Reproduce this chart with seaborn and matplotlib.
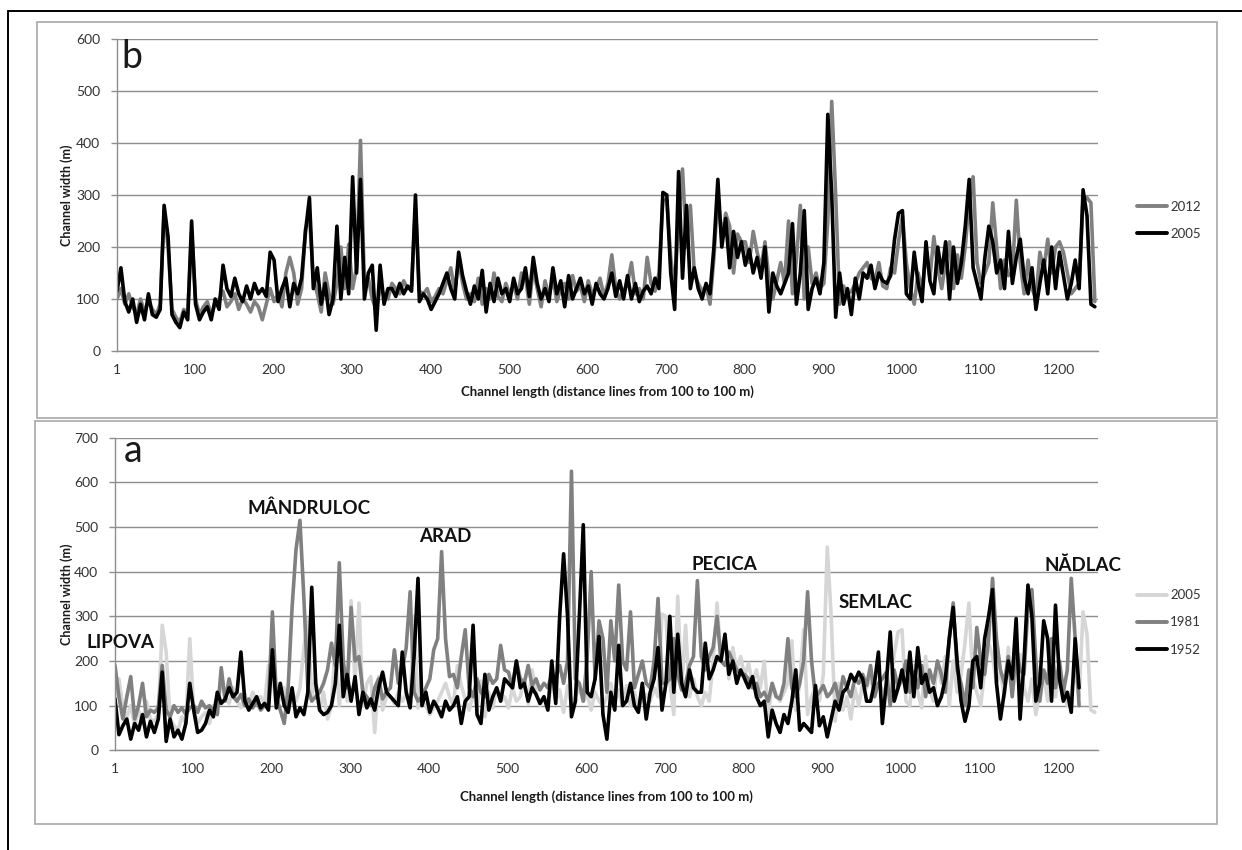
import numpy as np
import pandas as pd
import matplotlib
matplotlib.use("Agg")
import matplotlib.pyplot as plt
import seaborn as sns
from matplotlib.lines import Line2D
from matplotlib.patches import Rectangle

# ---------------- data (one value every 5 distance lines) ----------------
# positions 1, 6, 11, ... 1246
w2005 = [
    115, 160, 95, 75, 100, 55, 90, 60, 110, 70,
    65, 80, 280, 220, 70, 55, 45, 75, 60, 250,
    90, 60, 75, 85, 60, 100, 80, 165, 120, 105,
    140, 110, 95, 125, 100, 130, 110, 120, 105, 190,
    175, 95, 120, 140, 85, 130, 110, 140, 230, 295,
    120, 160, 90, 130, 70, 100, 240, 100, 180, 110,
    335, 150, 330, 100, 150, 165, 40, 165, 90, 120,
    120, 105, 130, 110, 125, 115, 300, 95, 110, 100,
    80, 95, 110, 130, 150, 120, 100, 190, 145, 115,
    90, 125, 100, 155, 75, 130, 95, 140, 110, 120,
    95, 140, 110, 120, 160, 105, 180, 130, 100, 120,
    95, 160, 110, 135, 85, 145, 100, 120, 140, 110,
    125, 90, 130, 110, 100, 120, 150, 105, 135, 100,
    145, 100, 130, 95, 115, 125, 110, 140, 120, 305,
    300, 150, 80, 345, 140, 280, 120, 160, 120, 100,
    130, 110, 200, 330, 200, 255, 160, 230, 180, 210,
    165, 195, 150, 180, 140, 200, 75, 150, 125, 110,
    130, 150, 245, 90, 150, 270, 80, 120, 140, 110,
    170, 455, 300, 65, 150, 90, 120, 70, 140, 100,
    150, 140, 165, 120, 150, 135, 130, 145, 215, 265,
    270, 110, 100, 190, 130, 95, 210, 135, 110, 200,
    150, 210, 100, 200, 130, 170, 240, 330, 160, 130,
    100, 180, 240, 210, 150, 175, 120, 230, 130, 180,
    215, 140, 110, 160, 80, 130, 175, 110, 200, 120,
    190, 145, 100, 130, 175, 120, 310, 260, 90, 85,
]

w2012 = [
    100, 120, 90, 110, 85, 70, 100, 75, 95, 80,
    70, 90, 270, 200, 80, 65, 55, 80, 70, 230,
    100, 70, 85, 95, 70, 90, 100, 115, 85, 95,
    110, 80, 100, 90, 75, 95, 85, 60, 90, 120,
    95, 110, 85, 150, 180, 150, 90, 120, 235, 260,
    140, 110, 75, 150, 110, 90, 130, 200, 120, 205,
    120, 160, 405, 130, 140, 100, 80, 120, 110, 100,
    130, 120, 110, 135, 120, 125, 280, 115, 110, 120,
    95, 105, 120, 110, 135, 160, 115, 175, 130, 100,
    110, 95, 140, 90, 120, 100, 150, 105, 95, 130,
    110, 125, 100, 150, 140, 90, 160, 120, 85, 135,
    105, 140, 95, 120, 130, 100, 145, 115, 125, 95,
    135, 110, 120, 140, 105, 130, 185, 120, 100, 115,
    130, 170, 110, 120, 100, 180, 130, 115, 150, 290,
    290, 180, 120, 250, 350, 200, 280, 150, 130, 115,
    125, 90, 180, 300, 215, 265, 240, 150, 225, 210,
    210, 170, 230, 190, 160, 210, 140, 100, 135, 170,
    130, 250, 110, 175, 280, 100, 200, 130, 150, 120,
    130, 250, 480, 300, 90, 125, 110, 115, 130, 150,
    160, 170, 140, 135, 170, 125, 120, 160, 150, 210,
    260, 170, 120, 90, 150, 115, 190, 140, 220, 160,
    120, 170, 210, 120, 185, 140, 200, 290, 335, 170,
    130, 150, 170, 285, 200, 120, 175, 145, 150, 290,
    170, 110, 175, 120, 100, 190, 155, 215, 150, 200,
    210, 190, 150, 110, 120, 130, 290, 295, 285, 95,
]

# positions 1, 6, 11, ... 1226
w1981 = [
    190, 120, 70, 120, 165, 70, 100, 150, 75, 90,
    85, 95, 190, 90, 75, 100, 85, 95, 80, 95,
    100, 85, 110, 95, 100, 90, 80, 185, 110, 160,
    120, 110, 125, 100, 115, 95, 110, 90, 100, 105,
    310, 120, 90, 60, 140, 320, 450, 515, 340, 140,
    110, 120, 130, 150, 180, 240, 190, 420, 200, 140,
    320, 200, 210, 130, 120, 100, 140, 160, 115, 130,
    140, 225, 150, 180, 230, 355, 130, 110, 120, 140,
    160, 225, 250, 445, 250, 165, 170, 140, 210, 270,
    140, 120, 160, 130, 120, 170, 150, 160, 235, 180,
    175, 140, 200, 160, 150, 190, 145, 160, 135, 150,
    140, 170, 165, 190, 150, 200, 625, 160, 150, 110,
    210, 400, 160, 290, 250, 130, 290, 200, 370, 200,
    180, 310, 140, 170, 200, 150, 140, 200, 340, 150,
    150, 160, 250, 170, 135, 150, 190, 210, 380, 210,
    180, 210, 230, 300, 200, 190, 220, 200, 180, 170,
    170, 160, 140, 150, 120, 130, 110, 150, 120, 115,
    150, 250, 140, 120, 150, 200, 355, 200, 120, 130,
    145, 120, 130, 150, 110, 165, 140, 120, 160, 150,
    170, 145, 190, 120, 150, 160, 175, 100, 180, 140,
    160, 200, 130, 175, 140, 190, 120, 180, 150, 200,
    170, 130, 250, 330, 180, 150, 100, 180, 140, 275,
    200, 170, 250, 385, 250, 180, 150, 210, 120, 230,
    180, 170, 320, 360, 200, 110, 180, 150, 250, 140,
    200, 130, 180, 385, 250, 100,
]

w1952 = [
    115, 35, 55, 70, 25, 60, 45, 80, 30, 65,
    40, 70, 175, 20, 70, 30, 45, 25, 60, 150,
    90, 40, 45, 60, 90, 75, 130, 105, 115, 140,
    120, 130, 220, 110, 90, 105, 120, 95, 105, 90,
    225, 95, 150, 100, 85, 140, 75, 95, 80, 130,
    365, 150, 90, 80, 85, 100, 150, 280, 120, 170,
    110, 165, 80, 130, 95, 115, 90, 140, 175, 130,
    120, 110, 100, 220, 130, 95, 210, 385, 100, 130,
    85, 110, 95, 75, 110, 90, 100, 120, 60, 110,
    120, 280, 80, 60, 170, 90, 120, 140, 110, 160,
    150, 140, 200, 140, 150, 110, 140, 125, 105, 120,
    90, 200, 105, 300, 440, 300, 75, 110, 300, 505,
    130, 120, 160, 255, 80, 25, 130, 90, 235, 100,
    110, 150, 100, 85, 150, 70, 130, 160, 230, 90,
    150, 300, 130, 260, 150, 120, 180, 140, 130, 130,
    240, 160, 180, 210, 200, 260, 170, 200, 150, 180,
    160, 140, 165, 120, 100, 110, 30, 90, 60, 40,
    80, 60, 110, 180, 45, 60, 50, 40, 145, 55,
    75, 30, 70, 110, 90, 130, 140, 170, 155, 175,
    160, 110, 110, 150, 220, 60, 150, 265, 110, 140,
    180, 130, 220, 120, 230, 150, 170, 130, 140, 100,
    120, 160, 250, 320, 200, 110, 65, 100, 200, 210,
    140, 250, 300, 360, 150, 70, 130, 200, 160, 295,
    70, 200, 370, 300, 110, 150, 290, 250, 110, 325,
    160, 110, 130, 85, 250, 140,
]

pos_long = np.arange(1, 1251, 5)
pos_short = np.arange(1, 1227, 5)
assert len(w2005) == len(pos_long) and len(w2012) == len(pos_long)
assert len(w1981) == len(pos_short) and len(w1952) == len(pos_short)

y_ticks_b = [0, 100, 200, 300, 400, 500, 600]
y_ticks_a = [0, 100, 200, 300, 400, 500, 600, 700]
x_ticks = [1, 100, 200, 300, 400, 500, 600, 700, 800, 900, 1000, 1100, 1200]
x_title = "Channel length (distance lines from 100 to 100 m)"
y_title = "Channel width (m)"
places = ["LIPOVA", "MÂNDRULOC", "ARAD", "PECICA", "SEMLAC", "NĂDLAC"]

# ---------------- figure ----------------
sns.set_theme(style="white")
FONT = ["Lato", "DejaVu Sans"]
plt.rcParams["font.family"] = FONT

W, H = 1242, 850
fig = plt.figure(figsize=(W / 100, H / 100), dpi=100)
fig.patch.set_facecolor("white")


def fx(x):
    return x / W


def fy(y):
    return 1 - y / H


GRID = "#8e8e8e"
TXT = "#333333"
C_LIGHT = "#d6d6d6"
C_MID = "#808080"
C_DARK = "#000000"
LW = 2.6


def style_axis(ax, yticks):
    ax.set_xlim(1, 1250)
    ax.set_ylim(yticks[0], yticks[-1])
    ax.set_yticks(yticks)
    ax.set_xticks(x_ticks)
    ax.set_xticklabels([str(t) for t in x_ticks])
    ax.grid(axis="y", color=GRID, lw=1.0)
    ax.grid(axis="x", visible=False)
    ax.set_axisbelow(True)
    for s in ["top", "right"]:
        ax.spines[s].set_visible(False)
    ax.spines["left"].set_color(GRID)
    ax.spines["bottom"].set_color(GRID)
    ax.spines["left"].set_linewidth(1.0)
    ax.spines["bottom"].set_linewidth(1.0)
    ax.tick_params(axis="y", length=4, width=1.0, color=GRID, pad=8,
                   labelsize=10, labelcolor=TXT, left=True)
    ax.tick_params(axis="x", length=0, pad=9, labelsize=10, labelcolor=TXT)
    ax.set_xlabel("")
    ax.set_ylabel("")
    ax.set_facecolor("white")


# ---- panel b ----
ax_b = fig.add_axes([fx(117), fy(351), (1098 - 117) / W, (351 - 39) / H])
sns.lineplot(x=pos_long, y=w2012, ax=ax_b, color=C_MID, lw=LW, errorbar=None)
sns.lineplot(x=pos_long, y=w2005, ax=ax_b, color=C_DARK, lw=LW, errorbar=None)
style_axis(ax_b, y_ticks_b)
ax_b.legend(handles=[Line2D([], [], color=C_MID, lw=2.8, label="2012"),
                     Line2D([], [], color=C_DARK, lw=2.8, label="2005")],
            loc="center left", bbox_to_anchor=(fx(1137), fy(220.5)),
            bbox_transform=fig.transFigure, frameon=False, fontsize=9.5,
            handlelength=2.3, handletextpad=0.2, labelspacing=1.15,
            borderpad=0, borderaxespad=0, labelcolor=TXT)

# ---- panel a ----
ax_a = fig.add_axes([fx(115), fy(750.3), (1098 - 115) / W, (750.3 - 437.7) / H])
sns.lineplot(x=pos_long, y=w2005, ax=ax_a, color=C_LIGHT, lw=LW, errorbar=None)
sns.lineplot(x=pos_short, y=w1981, ax=ax_a, color=C_MID, lw=LW, errorbar=None)
sns.lineplot(x=pos_short, y=w1952, ax=ax_a, color=C_DARK, lw=LW, errorbar=None)
style_axis(ax_a, y_ticks_a)
ax_a.legend(handles=[Line2D([], [], color=C_LIGHT, lw=2.8, label="2005"),
                     Line2D([], [], color=C_MID, lw=2.8, label="1981"),
                     Line2D([], [], color=C_DARK, lw=2.8, label="1952")],
            loc="center left", bbox_to_anchor=(fx(1137), fy(622.5)),
            bbox_transform=fig.transFigure, frameon=False, fontsize=9.5,
            handlelength=2.3, handletextpad=0.2, labelspacing=1.15,
            borderpad=0, borderaxespad=0, labelcolor=TXT)

# ---- axis titles ----
for yc in (195, 594):
    fig.text(fx(67), fy(yc), y_title, rotation=90, ha="center", va="center",
             fontsize=9, fontweight="bold", color="#1a1a1a")
fig.text(fx(607.5), fy(392), x_title, ha="center", va="center",
         fontsize=9.5, fontweight="bold", color="#1a1a1a")
fig.text(fx(606.5), fy(797), x_title, ha="center", va="center",
         fontsize=9.5, fontweight="bold", color="#1a1a1a")

# ---- panel letters ----
fig.text(fx(121), fy(68), "b", ha="left", va="baseline", fontsize=27, color="#1a1a1a")
fig.text(fx(124), fy(462), "a", ha="left", va="baseline", fontsize=27, color="#1a1a1a")

# ---- place names ----
place_xy = [(120, 643), (309, 508), (445.5, 536), (724.5, 565), (875.5, 603), (1082.5, 565)]
for name, (px, py) in zip(places, place_xy):
    fig.text(fx(px), fy(py), name, ha="center", va="center", fontsize=13.5,
             fontweight="bold", color="#111111")

# ---- panel frames ----
fig.patches.append(Rectangle((fx(37), fy(418)), (1217 - 37) / W, (418 - 22) / H,
                             transform=fig.transFigure, fill=False, ec="#a8a8a8", lw=1.2))
fig.patches.append(Rectangle((fx(35), fy(824)), (1217 - 35) / W, (824 - 421) / H,
                             transform=fig.transFigure, fill=False, ec="#a8a8a8", lw=1.2))
# outer border (left and top)
fig.add_artist(Line2D([fx(7.5), fx(7.5)], [fy(11), 0], transform=fig.transFigure,
                      color="black", lw=1.4))
fig.add_artist(Line2D([fx(7.5), 1], [fy(11), fy(11)], transform=fig.transFigure,
                      color="black", lw=1.4))

fig.savefig("out.png", dpi=100)
